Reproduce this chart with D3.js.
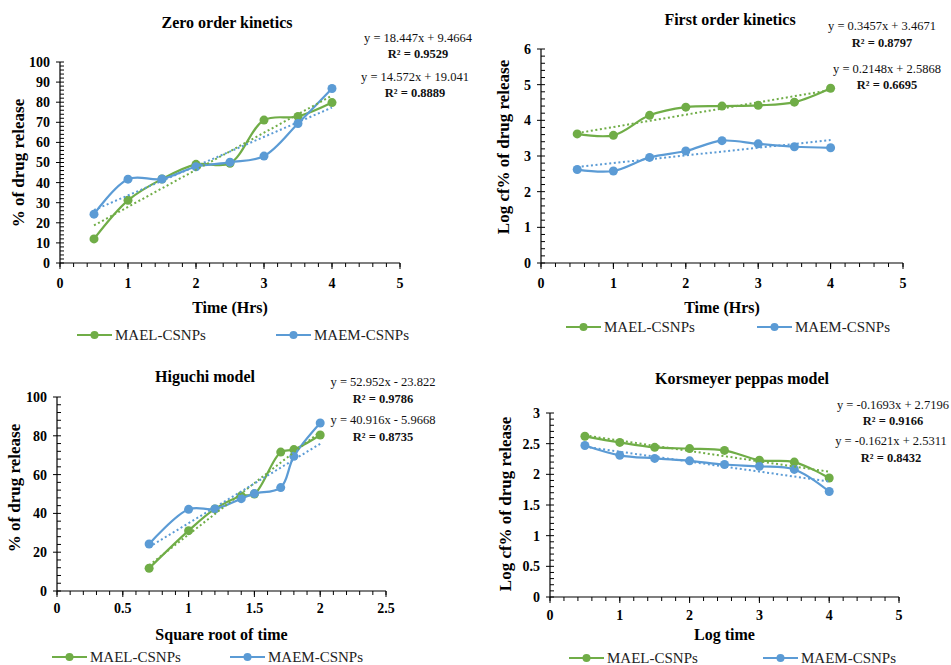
<!DOCTYPE html>
<html>
<head>
<meta charset="utf-8">
<script src="https://cdn.jsdelivr.net/npm/d3@7"></script>
<style>
  html, body { margin: 0; padding: 0; background: #fff; }
  svg { display: block; }
  svg text { font-family: "Liberation Serif", "DejaVu Serif", serif; }
  .tick-label { font-size: 14px; font-weight: bold; fill: #000; }
  .panel-title { font-size: 16px; font-weight: bold; fill: #000; }
  .axis-title { font-size: 16px; font-weight: bold; fill: #000; }
  .y-title { font-size: 17px; font-weight: bold; fill: #000; }
  .eq { font-size: 12.5px; fill: #111; }
  .eq-r2 { font-size: 12.5px; font-weight: bold; fill: #111; }
  .legend-text { font-size: 15px; fill: #222; }
</style>
</head>
<body>
<svg id="chart" width="951" height="665"></svg>
<script>
// series names and colours
const seriesNames = ["MAEL-CSNPs", "MAEM-CSNPs"];
const seriesColors = ["#70AD47", "#5B9BD5"];

// x values
const timeHrs = [0.5, 1, 1.5, 2, 2.5, 3, 3.5, 4];
const sqrtTime = [0.7, 1, 1.2, 1.4, 1.5, 1.7, 1.8, 2];

// zero order: % of drug release
const zeroMael = [12, 31.2, 41.8, 49.1, 49.6, 71.1, 72.9, 79.8];
const zeroMaem = [24.3, 41.7, 41.8, 47.9, 50.1, 53.2, 69.4, 86.8];

// first order: log cf% of drug release
const firstMael = [3.62, 3.58, 4.14, 4.37, 4.4, 4.42, 4.51, 4.9];
const firstMaem = [2.62, 2.58, 2.96, 3.14, 3.43, 3.34, 3.26, 3.23];

// higuchi: % of drug release vs square root of time
const higuchiMael = [11.7, 31.1, 42.3, 49, 50, 71.6, 72.9, 80.4];
const higuchiMaem = [24.2, 42.1, 42.3, 47.6, 50.2, 53.3, 69.4, 86.6];

// korsmeyer peppas: log cf% vs log time
const kpMael = [2.62, 2.52, 2.44, 2.42, 2.39, 2.23, 2.2, 1.94];
const kpMaem = [2.47, 2.31, 2.26, 2.22, 2.16, 2.13, 2.08, 1.72];

// trendline coefficients [slope, intercept] per series
const zeroFit = [[18.447, 9.4664], [14.572, 19.041]];
const firstFit = [[0.3457, 3.4671], [0.2148, 2.5868]];
const higuchiFit = [[52.952, -23.822], [40.916, -5.9668]];
const kpFit = [[-0.1693, 2.7196], [-0.1621, 2.5311]];

// equation labels
const zeroEq = [["y = 18.447x + 9.4664", "R² = 0.9529"], ["y = 14.572x + 19.041", "R² = 0.8889"]];
const firstEq = [["y = 0.3457x + 3.4671", "R² = 0.8797"], ["y = 0.2148x + 2.5868", "R² = 0.6695"]];
const higuchiEq = [["y = 52.952x - 23.822", "R² = 0.9786"], ["y = 40.916x - 5.9668", "R² = 0.8735"]];
const kpEq = [["y = -0.1693x + 2.7196", "R² = 0.9166"], ["y = -0.1621x + 2.5311", "R² = 0.8432"]];

const svg = d3.select("#chart");

const panels = [
  {
    title: "Zero order kinetics", xTitle: "Time (Hrs)", yTitle: "% of drug release",
    x: timeHrs, ys: [zeroMael, zeroMaem], fits: zeroFit, eqs: zeroEq,
    xDomain: [0, 5], yDomain: [0, 100], xRange: [60, 400], yRange: [263, 62],
    xMajor: 1, xMinor: 0.2, yMajor: 10, yMinor: 2,
    titlePos: [227, 28], xTitleY: 313, yTitleX: 18, yTitleY: 163, tickY: 288,
    eqPos: [[418, 42, 58], [415, 81, 97]],
    legendY: 335, legendX: [77, 276]
  },
  {
    title: "First order kinetics", xTitle: "Time (Hrs)", yTitle: "Log cf% of drug release",
    x: timeHrs, ys: [firstMael, firstMaem], fits: firstFit, eqs: firstEq,
    xDomain: [0, 5], yDomain: [0, 6], xRange: [541, 903], yRange: [263, 49],
    xMajor: 1, xMinor: 0.2, yMajor: 1, yMinor: 0.2,
    titlePos: [730, 25], xTitleY: 313, yTitleX: 503, yTitleY: 147, tickY: 288,
    eqPos: [[882, 30, 47], [887, 73, 89]],
    legendY: 327, legendX: [566, 757]
  },
  {
    title: "Higuchi model", xTitle: "Square root of time", yTitle: "% of drug release",
    x: sqrtTime, ys: [higuchiMael, higuchiMaem], fits: higuchiFit, eqs: higuchiEq,
    xDomain: [0, 2.5], yDomain: [0, 100], xRange: [57, 386], yRange: [591, 397],
    xMajor: 0.5, xMinor: 0.1, yMajor: 20, yMinor: 4,
    titlePos: [205, 382], xTitleY: 640, yTitleX: 14, yTitleY: 488, tickY: 613,
    eqPos: [[383, 386, 403], [383, 424, 441]],
    legendY: 657, legendX: [52, 230]
  },
  {
    title: "Korsmeyer peppas model", xTitle: "Log time", yTitle: "Log cf% of drug release",
    x: timeHrs, ys: [kpMael, kpMaem], fits: kpFit, eqs: kpEq,
    xDomain: [0, 5], yDomain: [0, 3], xRange: [550, 899], yRange: [597, 413],
    xMajor: 1, xMinor: 0.2, yMajor: 0.5, yMinor: 0.1,
    titlePos: [742, 384], xTitleY: 640, yTitleX: 505, yTitleY: 504, tickY: 620,
    eqPos: [[893, 409, 425], [891, 445, 462]],
    legendY: 658, legendX: [569, 763]
  }
];

function ticksOf(domain, step) {
  const n = Math.round((domain[1] - domain[0]) / step);
  return d3.range(n + 1).map((i) => +(domain[0] + i * step).toFixed(6));
}

function drawPanel(p) {
  const g = svg.append("g");
  const xScale = d3.scaleLinear().domain(p.xDomain).range(p.xRange);
  const yScale = d3.scaleLinear().domain(p.yDomain).range(p.yRange);
  const x0 = p.xRange[0];
  const y0 = p.yRange[0];

  // minor ticks
  g.append("g")
    .selectAll("line")
    .data(ticksOf(p.yDomain, p.yMinor))
    .join("line")
    .attr("x1", x0).attr("x2", x0 + 4)
    .attr("y1", (d) => yScale(d)).attr("y2", (d) => yScale(d))
    .attr("stroke", "#000").attr("stroke-width", 1);

  g.append("g")
    .selectAll("line")
    .data(ticksOf(p.xDomain, p.xMinor))
    .join("line")
    .attr("x1", (d) => xScale(d)).attr("x2", (d) => xScale(d))
    .attr("y1", y0).attr("y2", y0 + 4)
    .attr("stroke", "#000").attr("stroke-width", 1);

  // major ticks
  g.append("g")
    .selectAll("line")
    .data(ticksOf(p.yDomain, p.yMajor))
    .join("line")
    .attr("x1", x0 - 4).attr("x2", x0)
    .attr("y1", (d) => yScale(d)).attr("y2", (d) => yScale(d))
    .attr("stroke", "#000").attr("stroke-width", 1);

  g.append("g")
    .selectAll("line")
    .data(ticksOf(p.xDomain, p.xMajor))
    .join("line")
    .attr("x1", (d) => xScale(d)).attr("x2", (d) => xScale(d))
    .attr("y1", y0).attr("y2", y0 + 6)
    .attr("stroke", "#000").attr("stroke-width", 1);

  // axis lines
  g.append("line")
    .attr("x1", x0).attr("x2", x0)
    .attr("y1", p.yRange[0]).attr("y2", p.yRange[1])
    .attr("stroke", "#000").attr("stroke-width", 1.2);
  g.append("line")
    .attr("x1", p.xRange[0]).attr("x2", p.xRange[1])
    .attr("y1", y0).attr("y2", y0)
    .attr("stroke", "#000").attr("stroke-width", 1.2);

  // tick labels
  g.append("g")
    .selectAll("text")
    .data(ticksOf(p.yDomain, p.yMajor))
    .join("text")
    .attr("class", "tick-label")
    .attr("x", x0 - 10)
    .attr("y", (d) => yScale(d))
    .attr("dy", "0.35em")
    .attr("text-anchor", "end")
    .text((d) => String(d));

  g.append("g")
    .selectAll("text")
    .data(ticksOf(p.xDomain, p.xMajor))
    .join("text")
    .attr("class", "tick-label")
    .attr("x", (d) => xScale(d))
    .attr("y", p.tickY)
    .attr("text-anchor", "middle")
    .text((d) => String(d));

  // titles
  g.append("text")
    .attr("class", "panel-title")
    .attr("x", p.titlePos[0]).attr("y", p.titlePos[1])
    .attr("text-anchor", "middle")
    .text(p.title);

  g.append("text")
    .attr("class", "axis-title")
    .attr("x", (p.xRange[0] + p.xRange[1]) / 2 + 0)
    .attr("y", p.xTitleY)
    .attr("text-anchor", "middle")
    .text(p.xTitle);

  g.append("text")
    .attr("class", "y-title")
    .attr("transform", `translate(${p.yTitleX},${p.yTitleY}) rotate(-90)`)
    .attr("dy", "0.35em")
    .attr("text-anchor", "middle")
    .text(p.yTitle);

  const line = d3
    .line()
    .x((d) => xScale(d[0]))
    .y((d) => yScale(d[1]))
    .curve(d3.curveCatmullRom.alpha(0.5));

  p.ys.forEach((ys, i) => {
    const pts = p.x.map((xv, k) => [xv, ys[k]]);
    g.append("path")
      .datum(pts)
      .attr("d", line)
      .attr("fill", "none")
      .attr("stroke", seriesColors[i])
      .attr("stroke-width", 2.2);

    g.append("g")
      .selectAll("circle")
      .data(pts)
      .join("circle")
      .attr("r", 4.5)
      .attr("cx", (d) => xScale(d[0]))
      .attr("cy", (d) => yScale(d[1]))
      .attr("fill", seriesColors[i]);
  });

  // trendlines
  p.fits.forEach((fit, i) => {
    const xs = d3.extent(p.x);
    g.append("line")
      .attr("x1", xScale(xs[0])).attr("y1", yScale(fit[0] * xs[0] + fit[1]))
      .attr("x2", xScale(xs[1])).attr("y2", yScale(fit[0] * xs[1] + fit[1]))
      .attr("stroke", seriesColors[i])
      .attr("stroke-width", 2)
      .attr("stroke-dasharray", "2,2.6");
  });

  // equations
  p.eqs.forEach((eq, i) => {
    const pos = p.eqPos[i];
    g.append("text").attr("class", "eq")
      .attr("x", pos[0]).attr("y", pos[1])
      .attr("text-anchor", "middle").text(eq[0]);
    g.append("text").attr("class", "eq-r2")
      .attr("x", pos[0]).attr("y", pos[2])
      .attr("text-anchor", "middle").text(eq[1]);
  });

  // legend
  seriesNames.forEach((name, i) => {
    const lx = p.legendX[i];
    const lg = g.append("g");
    lg.append("line")
      .attr("x1", lx).attr("x2", lx + 35)
      .attr("y1", p.legendY).attr("y2", p.legendY)
      .attr("stroke", seriesColors[i]).attr("stroke-width", 2.2);
    lg.append("circle")
      .attr("cx", lx + 17.5).attr("cy", p.legendY).attr("r", 4)
      .attr("fill", seriesColors[i]);
    lg.append("text")
      .attr("class", "legend-text")
      .attr("x", lx + 38).attr("y", p.legendY)
      .attr("dy", "0.35em")
      .text(name);
  });
}

panels.forEach(drawPanel);
</script>
</body>
</html>
